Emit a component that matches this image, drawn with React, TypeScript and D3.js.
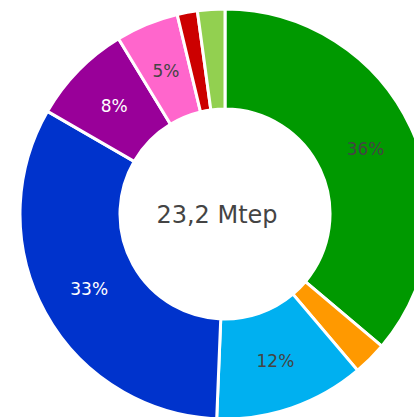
import * as d3 from 'd3'

// energy mix, Mtep
const categories = ['Cat. 1', 'Cat. 2', 'Cat. 3', 'Cat. 4', 'Cat. 5', 'Cat. 6', 'Cat. 7', 'Cat. 8']
const values = [8.4, 0.62, 2.75, 7.6, 1.85, 1.15, 0.37, 0.5]
const colors = ['#009900', '#ff9900', '#00b0f0', '#0033cc', '#990099', '#ff66cc', '#cc0000', '#92d050']
const labelColors = ['#444444', '#444444', '#444444', '#ffffff', '#ffffff', '#444444', '#444444', '#444444']
const totalLabel = '23,2 Mtep'

const W = 414
const H = 417
const cx = 225
const cy = 214
const rOuter = 205
const rInner = 105

const App = () => {
    const total = d3.sum(values)
    const pie = d3.pie<number>().sort(null).value(d => d)
    const arcs = pie(values)
    const arc = d3.arc<d3.PieArcDatum<number>>().innerRadius(rInner).outerRadius(rOuter)

    return (
        <svg width={W} height={H} style={{position: 'absolute', left: 0, top: 0, display: 'block'}}
             fontFamily={'DejaVu Sans, Verdana, sans-serif'}>
            <rect width={W} height={H} fill={'#ffffff'}/>
            <g transform={`translate(${cx},${cy})`}>
                {arcs.map((a, i) => (
                    <path key={categories[i]} d={arc(a) || ''} fill={colors[i]} stroke={'#ffffff'} strokeWidth={3}/>
                ))}
                {arcs.map((a, i) => {
                    const pct = values[i] / total * 100
                    if (pct < 4) return null
                    const [x, y] = arc.centroid(a)
                    return (
                        <text key={'l' + i} x={x} y={y} dy={'0.36em'} textAnchor={'middle'}
                              fontSize={17} fill={labelColors[i]}>
                            {Math.round(pct) + '%'}
                        </text>
                    )
                })}
            </g>
            <text x={217} y={223} textAnchor={'middle'} fontSize={24} fill={'#444444'}>{totalLabel}</text>
        </svg>
    )
}

export default App
